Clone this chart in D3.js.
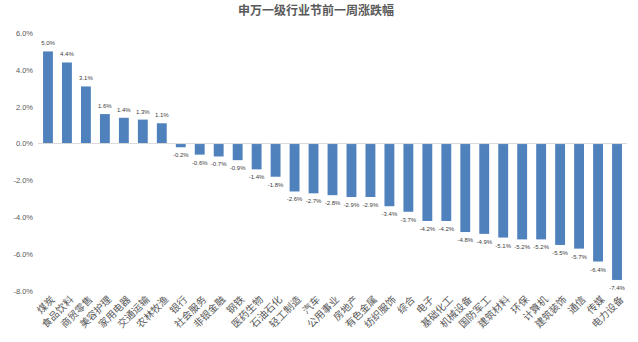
<!DOCTYPE html>
<html><head><meta charset="utf-8">
<script src="https://cdn.jsdelivr.net/npm/d3@7"></script>
<style>
html,body{margin:0;padding:0;background:#fff;}
svg{display:block;font-family:"Liberation Sans","Noto Sans CJK SC",sans-serif;}
</style></head>
<body>
<svg id="c" width="638" height="342"></svg>
<script>
const title = "申万一级行业节前一周涨跌幅";
const categories = ["煤炭","食品饮料","商贸零售","美容护理","家用电器","交通运输","农林牧渔","银行","社会服务","非银金融","钢铁","医药生物","石油石化","轻工制造","汽车","公用事业","房地产","有色金属","纺织服饰","综合","电子","基础化工","机械设备","国防军工","建筑材料","环保","计算机","建筑装饰","通信","传媒","电力设备"];
const values = [5.0,4.4,3.1,1.6,1.4,1.3,1.1,-0.2,-0.6,-0.7,-0.9,-1.4,-1.8,-2.6,-2.7,-2.8,-2.9,-2.9,-3.4,-3.7,-4.2,-4.2,-4.8,-4.9,-5.1,-5.2,-5.2,-5.5,-5.7,-6.4,-7.4];
const yTicks = [6,4,2,0,-2,-4,-6,-8];

const svg = d3.select("#c");
const x = d3.scaleBand().domain(categories).range([38.5, 626.5]).paddingInner(0.48).paddingOuter(0.24);
const y = d3.scaleLinear().domain([-8, 6]).range([291, 33]);
const fmt = v => v.toFixed(1) + "%";

svg.append("text").attr("x", 316).attr("y", 15).attr("text-anchor", "middle")
  .attr("font-size", 12).attr("font-weight", "bold").attr("fill", "#595959")
  .attr("font-family", "Noto Sans CJK SC").text(title);

// y axis labels
const ya = svg.append("g").attr("transform", "translate(33,0)")
  .call(d3.axisLeft(y).tickValues(yTicks).tickSize(0).tickPadding(0).tickFormat(fmt));
ya.select(".domain").remove();
ya.selectAll("text").attr("font-size", 7.5).attr("fill", "#595959").attr("font-family", "Liberation Sans");

// bars
svg.append("g").selectAll("rect").data(values).join("rect")
  .attr("x", (d, i) => x(categories[i]))
  .attr("width", x.bandwidth())
  .attr("y", d => y(Math.max(0, d)))
  .attr("height", d => Math.abs(y(d) - y(0)))
  .attr("fill", "#4f81bd");

// zero line
svg.append("line").attr("x1", 38).attr("x2", 627).attr("y1", y(0)).attr("y2", y(0))
  .attr("stroke", "#d9d9d9").attr("stroke-width", 1);

// value labels
svg.append("g").selectAll("text").data(values).join("text")
  .attr("x", (d, i) => x(categories[i]) + x.bandwidth() / 2)
  .attr("y", d => d >= 0 ? y(d) - 6 : y(d) + 10)
  .attr("text-anchor", "middle").attr("font-size", 6).attr("fill", "#404040")
  .attr("font-family", "Liberation Sans")
  .text(fmt);

// x labels
svg.append("g").selectAll("text").data(categories).join("text")
  .attr("transform", d => `translate(${x(d) + x.bandwidth() / 2 + 2},295) rotate(-45)`)
  .attr("dy", "0.75em").attr("text-anchor", "end")
  .attr("font-size", 10).attr("fill", "#595959")
  .attr("font-family", "Noto Sans CJK SC")
  .text(d => d);
</script>
</body></html>
